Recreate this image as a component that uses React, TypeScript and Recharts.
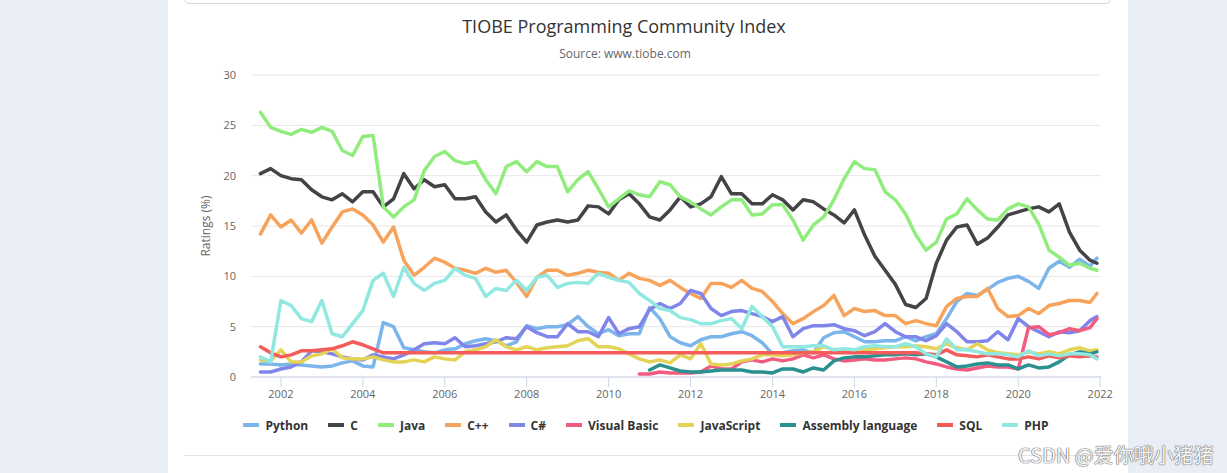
import { LineChart, Line, XAxis, YAxis, CartesianGrid } from 'recharts';

// monthly TIOBE data, read off the chart roughly once per quarter
const years = [
  2001.5, 2001.75, 2002, 2002.25, 2002.5, 2002.75, 2003, 2003.25, 2003.5, 2003.75,
  2004, 2004.25, 2004.5, 2004.75, 2005, 2005.25, 2005.5, 2005.75, 2006, 2006.25,
  2006.5, 2006.75, 2007, 2007.25, 2007.5, 2007.75, 2008, 2008.25, 2008.5, 2008.75,
  2009, 2009.25, 2009.5, 2009.75, 2010, 2010.25, 2010.5, 2010.75, 2011, 2011.25,
  2011.5, 2011.75, 2012, 2012.25, 2012.5, 2012.75, 2013, 2013.25, 2013.5, 2013.75,
  2014, 2014.25, 2014.5, 2014.75, 2015, 2015.25, 2015.5, 2015.75, 2016, 2016.25,
  2016.5, 2016.75, 2017, 2017.25, 2017.5, 2017.75, 2018, 2018.25, 2018.5, 2018.75,
  2019, 2019.25, 2019.5, 2019.75, 2020, 2020.25, 2020.5, 2020.75, 2021, 2021.25,
  2021.5, 2021.75, 2021.92,
];

const python = [
  1.3, 1.3, 1.2, 1.3, 1.2, 1.1, 1.0, 1.1, 1.4, 1.6,
  1.1, 1.0, 5.4, 5.0, 2.9, 2.7, 2.5, 2.4, 2.7, 2.8,
  3.3, 3.6, 3.8, 3.6, 3.1, 3.5, 5.1, 4.8, 5.0, 5.0,
  5.2, 6.0, 5.0, 4.3, 4.7, 4.1, 4.3, 4.3, 6.9, 5.8,
  4.0, 3.4, 3.1, 3.7, 4.0, 4.0, 4.3, 4.5, 4.1, 3.4,
  2.3, 2.4, 2.6, 2.7, 2.4, 3.9, 4.4, 4.5, 4.0, 3.5,
  3.5, 3.6, 3.6, 4.0, 3.6, 4.0, 4.3, 5.8, 7.5, 8.3,
  8.1, 8.7, 9.4, 9.8, 10.0, 9.5, 8.8, 10.8, 11.5, 10.9,
  11.7, 11.0, 11.8,
];

const c = [
  20.2, 20.7, 20.0, 19.7, 19.6, 18.6, 17.9, 17.6, 18.2, 17.4,
  18.4, 18.4, 16.9, 17.7, 20.2, 18.7, 19.6, 18.9, 19.1, 17.7,
  17.7, 17.9, 16.4, 15.4, 16.1, 14.6, 13.4, 15.1, 15.4, 15.6,
  15.4, 15.6, 17.0, 16.9, 16.2, 17.6, 18.2, 17.2, 15.9, 15.6,
  16.6, 17.9, 16.9, 17.2, 17.9, 19.9, 18.2, 18.2, 17.2, 17.2,
  18.1, 17.6, 16.6, 17.6, 17.4, 16.7, 16.1, 15.3, 16.6, 14.1,
  12.0, 10.6, 9.2, 7.2, 6.9, 7.8, 11.3, 13.6, 14.9, 15.1,
  13.2, 13.8, 14.9, 16.1, 16.4, 16.7, 16.9, 16.4, 17.2, 14.4,
  12.6, 11.6, 11.3,
];

const java = [
  26.3, 24.8, 24.4, 24.1, 24.6, 24.3, 24.8, 24.4, 22.5, 22.0,
  23.9, 24.0, 16.9, 15.9, 16.9, 17.6, 20.5, 21.9, 22.4, 21.5,
  21.2, 21.4, 19.6, 18.2, 20.9, 21.4, 20.4, 21.4, 20.9, 20.9,
  18.4, 19.6, 20.4, 18.7, 16.9, 17.7, 18.5, 18.1, 17.9, 19.4,
  19.1, 17.9, 17.4, 16.7, 16.1, 16.9, 17.6, 17.6, 16.1, 16.2,
  17.1, 17.1, 15.6, 13.6, 15.1, 15.9, 17.6, 19.7, 21.4, 20.7,
  20.6, 18.4, 17.6, 16.2, 14.1, 12.6, 13.4, 15.7, 16.2, 17.7,
  16.6, 15.7, 15.6, 16.7, 17.2, 16.9, 15.2, 12.6, 11.9, 11.1,
  11.3, 10.8, 10.6,
];

const cpp = [
  14.2, 16.1, 14.9, 15.6, 14.3, 15.6, 13.3, 14.9, 16.4, 16.7,
  16.1, 15.1, 13.4, 14.9, 11.6, 10.1, 10.9, 11.8, 11.4, 10.8,
  10.6, 10.3, 10.8, 10.4, 10.6, 9.4, 8.0, 9.9, 10.6, 10.6,
  10.1, 10.3, 10.6, 10.4, 10.3, 9.6, 10.3, 9.8, 9.6, 9.1,
  9.6, 8.9, 8.3, 7.8, 9.3, 9.3, 8.9, 9.6, 8.8, 8.5,
  7.5, 6.3, 5.3, 5.8, 6.5, 7.1, 8.1, 6.1, 6.8, 6.5,
  6.6, 6.1, 6.1, 5.3, 5.6, 5.3, 5.1, 7.0, 7.8, 8.0,
  8.0, 8.8, 6.8, 6.0, 6.1, 6.8, 6.3, 7.1, 7.3, 7.6,
  7.6, 7.4, 8.3,
];

const csharp = [
  0.5, 0.5, 0.8, 1.0, 1.5, 2.6, 2.5, 2.3, 2.0, 1.8,
  1.7, 2.2, 2.0, 1.8, 2.2, 2.7, 3.3, 3.4, 3.3, 3.9,
  3.0, 3.1, 3.3, 3.5, 3.9, 3.8, 5.0, 4.4, 4.0, 4.0,
  5.3, 4.5, 4.5, 4.0, 5.9, 4.3, 4.8, 5.0, 6.7, 7.3,
  6.8, 7.3, 8.6, 8.3, 6.8, 6.1, 6.5, 6.6, 6.3, 6.0,
  5.5, 6.0, 4.0, 4.8, 5.1, 5.1, 5.2, 4.8, 4.6, 4.1,
  4.5, 5.3, 4.5, 4.0, 4.0, 3.6, 4.1, 5.3, 4.5, 3.5,
  3.5, 3.6, 4.5, 3.7, 5.8, 5.0, 4.5, 4.0, 4.5, 4.4,
  4.6, 5.6, 6.0,
];

const visualBasic = [
  null, null, null, null, null, null, null, null, null, null,
  null, null, null, null, null, null, null, null, null, null,
  null, null, null, null, null, null, null, null, null, null,
  null, null, null, null, null, null, null, 0.3, 0.3, 0.5,
  0.4, 0.4, 0.4, 0.5, 1.1, 0.8, 0.8, 1.5, 1.7, 1.5,
  1.8, 1.6, 1.8, 2.2, 1.9, 2.2, 1.8, 1.6, 1.7, 1.8,
  1.7, 1.7, 1.8, 1.9, 1.8, 1.5, 1.3, 1.0, 0.8, 0.7,
  0.9, 1.1, 1.0, 1.0, 0.8, 4.9, 5.0, 4.2, 4.4, 4.8,
  4.6, 4.9, 5.8,
];

const javascript = [
  1.7, 1.6, 2.7, 1.5, 1.5, 2.1, 2.3, 2.8, 1.9, 1.8,
  1.8, 2.0, 1.7, 1.5, 1.5, 1.7, 1.5, 2.0, 1.8, 1.7,
  2.5, 2.7, 3.0, 3.7, 3.0, 2.7, 3.0, 2.7, 2.9, 3.0,
  3.1, 3.6, 3.8, 3.0, 3.0, 2.8, 2.3, 1.8, 1.5, 1.7,
  1.4, 2.2, 1.8, 3.3, 1.3, 1.2, 1.3, 1.6, 1.8, 2.2,
  2.2, 2.1, 2.2, 2.4, 2.5, 3.0, 2.7, 2.7, 2.7, 2.7,
  2.8, 2.9, 3.0, 3.0, 3.1, 3.0, 2.8, 3.3, 2.9, 2.7,
  3.3, 2.7, 2.4, 2.3, 2.2, 2.5, 2.3, 2.5, 2.3, 2.7,
  2.9, 2.6, 2.7,
];

const assembly = [
  null, null, null, null, null, null, null, null, null, null,
  null, null, null, null, null, null, null, null, null, null,
  null, null, null, null, null, null, null, null, null, null,
  null, null, null, null, null, null, null, null, 0.7, 1.2,
  0.9, 0.6, 0.5, 0.5, 0.6, 0.7, 0.7, 0.7, 0.5, 0.5,
  0.4, 0.8, 0.8, 0.5, 0.9, 0.7, 1.6, 1.9, 2.0, 2.0,
  2.1, 2.2, 2.2, 2.3, 2.2, 2.3, 2.0, 1.5, 1.0, 1.1,
  1.3, 1.4, 1.2, 1.2, 0.8, 1.2, 0.9, 1.0, 1.5, 2.2,
  2.5, 2.3, 2.5,
];

const sql = [
  3.0, 2.4, 2.0, 2.2, 2.6, 2.6, 2.7, 2.8, 3.1, 3.5,
  3.2, 2.8, 2.4, 2.4, 2.4, 2.4, 2.4, 2.4, 2.4, 2.4,
  2.4, 2.4, 2.4, 2.4, 2.4, 2.4, 2.4, 2.4, 2.4, 2.4,
  2.4, 2.4, 2.4, 2.4, 2.4, 2.4, 2.4, 2.4, 2.4, 2.4,
  2.4, 2.4, 2.4, 2.4, 2.4, 2.4, 2.4, 2.4, 2.4, 2.4,
  2.4, 2.4, 2.4, 2.4, 2.4, 2.4, 2.4, 2.4, 2.4, 2.4,
  2.4, 2.4, 2.4, 2.4, 2.4, 2.3, 2.2, 2.7, 2.2, 2.1,
  2.0, 2.2, 2.0, 1.8, 1.8, 2.0, 1.8, 2.1, 1.9, 2.1,
  2.0, 2.1, 2.0,
];

const php = [
  2.0, 1.5, 7.6, 7.1, 5.8, 5.5, 7.6, 4.3, 4.0, 5.3,
  6.6, 9.6, 10.3, 8.0, 10.9, 9.3, 8.6, 9.3, 9.6, 10.8,
  10.1, 9.8, 8.0, 8.8, 8.6, 9.6, 8.6, 9.9, 10.1, 8.9,
  9.3, 9.4, 9.3, 10.3, 9.9, 9.6, 9.4, 8.3, 7.6, 6.8,
  6.6, 5.9, 5.7, 5.3, 5.3, 5.6, 5.8, 4.8, 7.0, 6.0,
  5.0, 3.0, 3.0, 3.0, 3.1, 3.1, 2.7, 2.8, 2.7, 3.0,
  3.1, 3.0, 3.0, 3.3, 3.0, 2.3, 2.0, 3.8, 2.7, 2.7,
  2.5, 2.3, 2.3, 2.2, 2.0, 2.6, 2.1, 2.3, 2.1, 2.3,
  2.3, 2.2, 1.8,
];

const series = [
  { name: 'Python', color: '#7cb5ec', values: python },
  { name: 'C', color: '#434348', values: c },
  { name: 'Java', color: '#90ed7d', values: java },
  { name: 'C++', color: '#f7a35c', values: cpp },
  { name: 'C#', color: '#8085e9', values: csharp },
  { name: 'Visual Basic', color: '#f15c80', values: visualBasic },
  { name: 'JavaScript', color: '#e4d354', values: javascript },
  { name: 'Assembly language', color: '#2b908f', values: assembly },
  { name: 'SQL', color: '#f45b5b', values: sql },
  { name: 'PHP', color: '#91e8e1', values: php },
];

const xTicks = [2002, 2004, 2006, 2008, 2010, 2012, 2014, 2016, 2018, 2020, 2022];
const yTicks = [0, 5, 10, 15, 20, 25, 30];

const chartData = years.map((year, i) => {
  const row: Record<string, number | null> = { year };
  series.forEach((s) => {
    row[s.name] = s.values[i];
  });
  return row;
});

const font = '"Open Sans", "DejaVu Sans", sans-serif';

export default function App() {
  return (
    <div
      style={{
        position: 'absolute',
        left: 0,
        top: 0,
        width: 1227,
        height: 473,
        overflow: 'hidden',
        background: '#e9edf5',
        fontFamily: font,
      }}
    >
      {/* white page column */}
      <div style={{ position: 'absolute', left: 168, top: 0, width: 960, height: 473, background: '#fff' }} />
      {/* bottom edge of the box above the chart */}
      <div
        style={{
          position: 'absolute',
          left: 184,
          top: -12,
          width: 925,
          height: 14,
          border: '1px solid #d6d6d6',
          borderRadius: 5,
        }}
      />
      <div style={{ position: 'absolute', left: 184, top: 455, width: 927, height: 1, background: '#e2e2e2' }} />

      <div
        style={{
          position: 'absolute',
          left: 324,
          width: 600,
          top: 13,
          textAlign: 'center',
          fontSize: 18,
          lineHeight: '26px',
          color: '#333333',
        }}
      >
        TIOBE Programming Community Index
      </div>
      <div
        style={{
          position: 'absolute',
          left: 325,
          width: 600,
          top: 46,
          textAlign: 'center',
          fontSize: 12,
          lineHeight: '16px',
          color: '#666666',
        }}
      >
        Source: www.tiobe.com
      </div>

      <div style={{ position: 'absolute', left: 0, top: 0 }}>
        <LineChart
          width={1227}
          height={473}
          data={chartData}
          margin={{ top: 75, right: 126, bottom: 66, left: 191 }}
          style={{ fontFamily: font }}
        >
          <CartesianGrid horizontal={true} vertical={false} stroke="#e6e6e6" />
          <XAxis
            dataKey="year"
            type="number"
            domain={[2001.27, 2022.02]}
            ticks={xTicks}
            allowDataOverflow
            height={30}
            stroke="#ccd6eb"
            tickSize={10}
            tickMargin={3}
            tick={{ fill: '#666666', fontSize: 11 }}
          />
          <YAxis
            type="number"
            domain={[0, 30]}
            ticks={yTicks}
            width={60}
            axisLine={false}
            tickLine={false}
            tickSize={0}
            tickMargin={15}
            tick={{ fill: '#666666', fontSize: 11 }}
            label={{
              value: 'Ratings (%)',
              angle: -90,
              position: 'insideLeft',
              offset: 15,
              style: { textAnchor: 'middle', fill: '#666666', fontSize: 12 },
            }}
          />
          {series.map((s) => (
            <Line
              key={s.name}
              type="linear"
              dataKey={s.name}
              stroke={s.color}
              strokeWidth={3.5}
              strokeLinejoin="round"
              strokeLinecap="round"
              dot={false}
              activeDot={false}
              isAnimationActive={false}
            />
          ))}
        </LineChart>
      </div>

      {/* legend */}
      <div
        style={{
          position: 'absolute',
          left: 168,
          width: 956,
          top: 415,
          height: 20,
          display: 'flex',
          justifyContent: 'center',
          alignItems: 'center',
          gap: 20,
        }}
      >
        {series.map((s) => (
          <div key={s.name} style={{ display: 'flex', alignItems: 'center' }}>
            <span style={{ display: 'inline-block', width: 16, height: 4, background: s.color, marginRight: 6 }} />
            <span style={{ fontSize: 12, fontWeight: 700, color: '#333333', whiteSpace: 'nowrap' }}>{s.name}</span>
          </div>
        ))}
      </div>

      <div
        style={{
          position: 'absolute',
          left: 1018,
          top: 441,
          fontSize: 20,
          lineHeight: '28px',
          whiteSpace: 'nowrap',
          color: '#f7f7f7',
          textShadow: '0 0 1px #666, 0 0 1px #666, 0 0 1px #777',
          fontFamily: '"Noto Sans CJK SC", "Noto Sans", sans-serif',
        }}
      >
        CSDN @爱你哦小猪猪
      </div>
    </div>
  );
}
